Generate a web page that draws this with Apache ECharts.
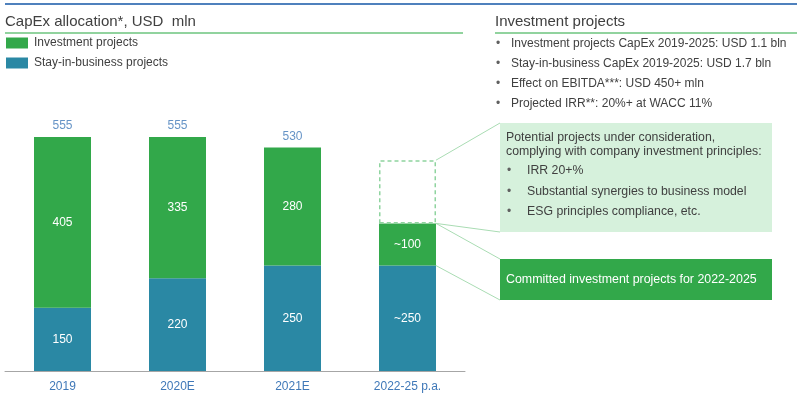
<!DOCTYPE html>
<html><head><meta charset="utf-8">
<script src="https://cdn.jsdelivr.net/npm/echarts@6/dist/echarts.min.js"></script>
<style>html,body{margin:0;padding:0;background:#fff}#c{width:797px;height:395px}</style></head>
<body><div id="c"></div>
<script>
const categories = ['2019', '2020E', '2021E', '2022-25 p.a.'];
const stayInBusiness = [150, 220, 250, 250];
const investment = [405, 335, 280, 100];
const potential = [null, null, null, 150];
const totals = [555, 555, 530, null];
const stayLabels = ['150', '220', '250', '~250'];
const invLabels = ['405', '335', '280', '~100'];
const rightBullets = [
  'Investment projects CapEx 2019-2025: USD 1.1 bln',
  'Stay-in-business CapEx 2019-2025: USD 1.7 bln',
  'Effect on EBITDA***: USD 450+ mln',
  'Projected IRR**: 20%+ at WACC 11%'
];
const boxHeader = ['Potential projects under consideration,', 'complying with company investment principles:'];
const boxBullets = ['IRR 20+%', 'Substantial synergies to business model', 'ESG principles compliance, etc.'];
const committedText = 'Committed investment projects for 2022-2025';

const FONT = 'Liberation Sans';
const GREEN = '#32a84a', BLUE = '#2a88a4', TXT = '#404040', LBL = '#3f78b8';
const BAR_W = 57;

const chart = echarts.init(document.getElementById('c'), null, {renderer: 'canvas'});
const option = {
  animation: false,
  textStyle: {fontFamily: FONT},
  title: [
    {text: 'CapEx allocation*, USD  mln', left: 0, top: 9, textStyle: {fontSize: 15, fontWeight: 'normal', color: TXT, fontFamily: FONT}},
    {text: 'Investment projects', left: 490, top: 9, textStyle: {fontSize: 15, fontWeight: 'normal', color: TXT, fontFamily: FONT}}
  ],
  legend: {
    data: ['Investment projects', 'Stay-in-business projects'],
    orient: 'vertical', left: 6, top: 37, padding: 0, itemWidth: 22, itemHeight: 11, itemGap: 8,
    icon: 'rect', textStyle: {fontSize: 12, color: TXT, fontFamily: FONT, padding: [0, 0, 0, 1]}
  },
  grid: {left: 5, right: 332, top: 118, bottom: 24, containLabel: false},
  xAxis: {
    type: 'category', data: categories,
    axisLine: {lineStyle: {color: '#a6a6a6'}}, axisTick: {show: false},
    axisLabel: {color: LBL, fontSize: 12, margin: 10, fontFamily: FONT}
  },
  yAxis: {type: 'value', min: 0, max: 600, show: false, splitLine: {show: false}},
  series: [
    {name: 'Stay-in-business projects', type: 'bar', stack: 't', data: stayInBusiness, barWidth: BAR_W,
      itemStyle: {color: BLUE},
      label: {show: true, position: 'inside', color: '#fff', fontSize: 12, formatter: p => stayLabels[p.dataIndex]}},
    {name: 'Investment projects', type: 'bar', stack: 't', data: investment, barWidth: BAR_W,
      itemStyle: {color: GREEN},
      label: {show: true, position: 'inside', color: '#fff', fontSize: 12, formatter: p => invLabels[p.dataIndex]}},
    {name: 'Potential', type: 'bar', stack: 't', data: potential, barWidth: BAR_W,
      itemStyle: {color: 'rgba(0,0,0,0)', borderColor: '#8fd49f', borderWidth: 1.5, borderType: [4, 3]}},
    {name: 'Total', type: 'scatter', data: totals, symbolSize: 0,
      label: {show: true, position: 'top', distance: 5, color: LBL, fontSize: 12, formatter: p => p.value}}
  ]
};
chart.setOption(option);

const px = (i, v) => chart.convertToPixel({gridIndex: 0}, [i, v]);
const right = px(3, 0)[0] + BAR_W / 2;
const yPot = px(3, stayInBusiness[3] + investment[3] + potential[3])[1];
const yTot = px(3, stayInBusiness[3] + investment[3])[1];
const yStay = px(3, stayInBusiness[3])[1];
const LC = '#a9dcb3';
const g = [];
g.push({type: 'line', shape: {x1: 5, y1: 4, x2: 797, y2: 4}, style: {stroke: '#4f81bd', lineWidth: 2}});
g.push({type: 'line', shape: {x1: 5, y1: 33, x2: 463, y2: 33}, style: {stroke: '#6cc47e', lineWidth: 1.5}});
g.push({type: 'line', shape: {x1: 495, y1: 33, x2: 797, y2: 33}, style: {stroke: '#6cc47e', lineWidth: 1.5}});
rightBullets.forEach((t, i) => {
  const y = 44 + i * 20;
  g.push({type: 'text', x: 496, y: y, style: {text: '•', fill: '#606060', font: '12px ' + FONT, verticalAlign: 'middle'}});
  g.push({type: 'text', x: 511, y: y, style: {text: t, fill: TXT, font: '12px ' + FONT, verticalAlign: 'middle'}});
});
g.push({type: 'rect', shape: {x: 500, y: 123, width: 272, height: 109}, style: {fill: '#d6f1dc'}});
boxHeader.forEach((t, i) => {
  g.push({type: 'text', x: 506, y: 138 + i * 14, style: {text: t, fill: TXT, font: '12.3px ' + FONT, verticalAlign: 'middle'}});
});
boxBullets.forEach((t, i) => {
  const y = 171 + i * 20.5;
  g.push({type: 'text', x: 507, y: y, style: {text: '•', fill: '#606060', font: '12px ' + FONT, verticalAlign: 'middle'}});
  g.push({type: 'text', x: 527, y: y, style: {text: t, fill: TXT, font: '12.3px ' + FONT, verticalAlign: 'middle'}});
});
g.push({type: 'rect', shape: {x: 500, y: 259, width: 272, height: 41}, style: {fill: GREEN}});
g.push({type: 'text', x: 506, y: 279.5, style: {text: committedText, fill: '#fff', font: '12.4px ' + FONT, verticalAlign: 'middle'}});
g.push({type: 'line', shape: {x1: right, y1: yPot, x2: 500, y2: 123}, style: {stroke: LC, lineWidth: 1}});
g.push({type: 'line', shape: {x1: right, y1: yTot, x2: 500, y2: 232}, style: {stroke: LC, lineWidth: 1}});
g.push({type: 'line', shape: {x1: right, y1: yTot, x2: 500, y2: 259}, style: {stroke: LC, lineWidth: 1}});
g.push({type: 'line', shape: {x1: right, y1: yStay, x2: 500, y2: 300}, style: {stroke: LC, lineWidth: 1}});
chart.setOption({graphic: g});
</script>
</body></html>
